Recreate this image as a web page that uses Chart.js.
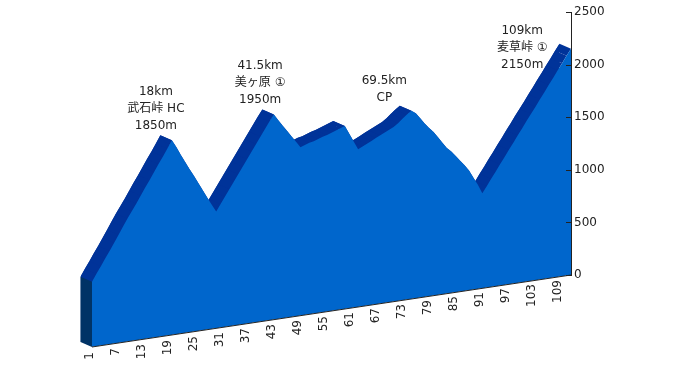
<!DOCTYPE html>
<html>
<head>
<meta charset="utf-8">
<script src="https://cdn.jsdelivr.net/npm/chart.js@4.4.1/dist/chart.umd.min.js"></script>
<style>
	html, body { margin: 0; padding: 0; background: #fff; }
	#wrap { width: 675px; height: 370px; }
</style>
</head>
<body>
<div id="wrap"><canvas id="chart-profile" width="675" height="370"></canvas></div>
<script>
const kmLabels = [1, 7, 13, 19, 25, 31, 37, 43, 49, 55, 61, 67, 73, 79, 85, 91, 97, 103, 109];
const yTicks = [0, 500, 1000, 1500, 2000, 2500];

// elevation (m) for each point 1..109
const altitude = [
	620, 690, 755, 825, 890, 960, 1030, 1100, 1170, 1235, 1300, 1370, 1440, 1505, 1575, 1645, 1710, 1780, 1850,
	1780, 1700, 1625, 1550, 1480, 1405, 1330, 1255, 1180, 1110,
	1175, 1240, 1305, 1370, 1435, 1500, 1565, 1630, 1695, 1760, 1825, 1890, 1950,
	1890, 1830, 1775, 1715, 1660, 1600,
	1615, 1630, 1640, 1655, 1670, 1680, 1695, 1710, 1725, 1740,
	1660, 1580, 1500,
	1520, 1540, 1560, 1580, 1600, 1620, 1640, 1660, 1690, 1725, 1760, 1790,
	1760, 1705, 1650, 1600, 1555, 1500, 1440, 1385, 1345, 1295, 1245, 1195, 1140, 1065, 990, 905,
	965, 1030, 1090, 1155, 1215, 1280, 1340, 1405, 1465, 1530, 1590, 1650, 1715, 1775, 1840, 1900, 1965, 2025, 2090, 2150,
];

const spotKm = [18, 41.5, 69.5, 109];
const spotText = [
	["18km", "武石峠 HC", "1850m"],
	["41.5km", "美ヶ原 ①", "1950m"],
	["69.5km", "CP"],
	["109km", "麦草峠 ①", "2150m"],
];

const frontColor = "#0066cc";
const topColor = "#003399";
const sideColor = "#003366";
const textColor = "#222222";
const fontFamily = "'DejaVu Sans', 'Noto Sans CJK JP', sans-serif";

const slant = 0.1503; // baseline rises this much per px towards the right
const depthX = 11.5;
const depthY = 5;

const points = altitude.map((v, i) => ({ x: i + 1, y: v }));

function lift(chart, x, y) {
	return y + slant * (chart.chartArea.right - x);
}

// slant the plot, the back copy (dataset 1) also shifted up-left
function setView(chart, index) {
	const ctx = chart.ctx;
	ctx.save();
	if (index === 1) ctx.translate(-depthX, -depthY);
	ctx.transform(1, -slant, 0, 1, 0, slant * chart.chartArea.right);
}

// top face: join each segment of the front edge to its back copy
function drawTopFace(chart) {
	const ctx = chart.ctx;
	const pts = chart.getDatasetMeta(0).data;
	ctx.save();
	ctx.fillStyle = topColor;
	for (let i = 0; i < pts.length - 1; i++) {
		const p = pts[i];
		const q = pts[i + 1];
		const py = lift(chart, p.x, p.y);
		const qy = lift(chart, q.x, q.y);
		ctx.beginPath();
		ctx.moveTo(p.x, py);
		ctx.lineTo(q.x, qy);
		ctx.lineTo(q.x - depthX, qy - depthY);
		ctx.lineTo(p.x - depthX, py - depthY);
		ctx.closePath();
		ctx.fill();
	}
	ctx.restore();
}

// the filler paints in its own beforeDatasetDraw, which runs before ours,
// so the transform for each dataset is set one step earlier
const profile3d = {
	id: "profile3d",
	beforeDatasetsDraw(chart) {
		setView(chart, 1);
	},
	afterDatasetDraw(chart, args) {
		chart.ctx.restore();
		if (args.index === 1) {
			drawTopFace(chart);
			setView(chart, 0);
		}
	},
	afterDatasetsDraw(chart) {
		const ctx = chart.ctx;
		const xs = chart.scales.x;
		const ys = chart.scales.y;
		const x0 = xs.getPixelForValue(xs.min);
		const x1 = xs.getPixelForValue(xs.max);
		const yb = lift(chart, x0, ys.getPixelForValue(0));
		const yt = lift(chart, x0, ys.getPixelForValue(altitude[0]));
		ctx.save();
		// left end face
		ctx.fillStyle = sideColor;
		ctx.beginPath();
		ctx.moveTo(x0, yb);
		ctx.lineTo(x0, yt);
		ctx.lineTo(x0 - depthX, yt - depthY);
		ctx.lineTo(x0 - depthX, yb - depthY);
		ctx.closePath();
		ctx.fill();
		// sloped base line
		ctx.strokeStyle = textColor;
		ctx.lineWidth = 1;
		ctx.beginPath();
		ctx.moveTo(x0, yb);
		ctx.lineTo(x1, lift(chart, x1, ys.getPixelForValue(0)));
		ctx.stroke();
		ctx.restore();
	},
	afterDraw(chart) {
		const ctx = chart.ctx;
		const a = chart.chartArea;
		const xs = chart.scales.x;
		const ys = chart.scales.y;
		ctx.save();
		ctx.font = "12px " + fontFamily;
		ctx.fillStyle = textColor;
		ctx.strokeStyle = textColor;

		// y ticks point inwards
		ctx.lineWidth = 1;
		ys.ticks.forEach((t) => {
			const py = Math.round(ys.getPixelForValue(t.value)) + 0.5;
			ctx.beginPath();
			ctx.moveTo(a.right - 5, py);
			ctx.lineTo(a.right + 1, py);
			ctx.stroke();
		});

		// x labels along the sloped base
		kmLabels.forEach((v) => {
			const px = xs.getPixelForValue(v);
			const t = (v - xs.min) / (xs.max - xs.min);
			const lx = px - 2 - depthX * t;
			const ly = lift(chart, px, ys.getPixelForValue(0)) + 5;
			ctx.save();
			ctx.translate(lx, ly);
			ctx.rotate(-Math.PI / 2);
			ctx.textAlign = "right";
			ctx.textBaseline = "middle";
			ctx.fillText(String(v), 0, 0);
			ctx.restore();
		});

		// spot labels
		ctx.textAlign = "center";
		ctx.textBaseline = "middle";
		spotKm.forEach((km, k) => {
			const lines = spotText[k];
			let peak = 0;
			altitude.forEach((v, i) => {
				if (Math.abs(i + 1 - km) <= 4 && v > peak) peak = v;
			});
			const px = xs.getPixelForValue(km);
			const top = lift(chart, px, ys.getPixelForValue(peak)) - depthY;
			const w = Math.max(...lines.map((s) => ctx.measureText(s).width));
			let cx = px - depthX;
			const n = lines.length;
			if (cx + w / 2 > a.right - 10) {
				cx = px - depthX - 12 - w / 2;
				lines.forEach((s, j) => ctx.fillText(s, cx, top + 4 + (j - 1) * 17));
			} else {
				lines.forEach((s, j) => ctx.fillText(s, cx, top - 10 - (n - 1 - j) * 17));
			}
		});
		ctx.restore();
	},
};

const ctxProfile = document.getElementById("chart-profile").getContext("2d");

var chartProfile = new Chart(ctxProfile, {
	type: "line",
	data: {
		datasets: [
			{
				label: "front",
				data: points,
				fill: "origin",
				backgroundColor: frontColor,
				borderColor: "rgba(0,0,0,0)",
				borderWidth: 0,
				pointRadius: 0,
				tension: 0,
				clip: false,
			},
			{
				label: "back",
				data: points,
				fill: "origin",
				backgroundColor: topColor,
				borderColor: "rgba(0,0,0,0)",
				borderWidth: 0,
				pointRadius: 0,
				tension: 0,
				clip: false,
			},
		],
	},
	plugins: [profile3d],
	options: {
		responsive: false,
		animation: false,
		events: [],
		layout: {
			padding: { left: 92, right: 64, top: 12, bottom: 95 },
		},
		plugins: {
			legend: { display: false },
			tooltip: { enabled: false },
		},
		scales: {
			x: {
				type: "linear",
				min: 1,
				max: 109,
				display: false,
			},
			y: {
				position: "right",
				min: 0,
				max: 2500,
				z: 1,
				afterBuildTicks: (scale) => {
					scale.ticks = yTicks.map((v) => ({ value: v }));
				},
				afterFit: (scale) => {
					scale.width = 40;
				},
				grid: { drawOnChartArea: false, drawTicks: false },
				border: { display: true, color: textColor, width: 1 },
				ticks: {
					color: textColor,
					padding: 3,
					font: { family: fontFamily, size: 12 },
					callback: (v) => String(v),
				},
			},
		},
	},
});
</script>
</body>
</html>
